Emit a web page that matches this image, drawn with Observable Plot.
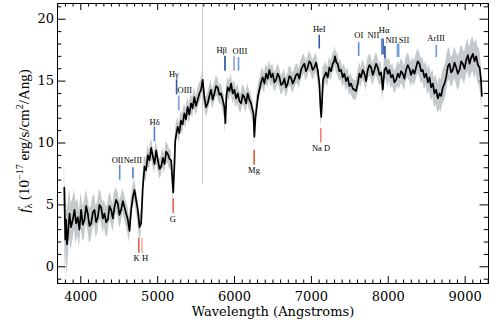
<!DOCTYPE html>
<html>
<head>
<meta charset="utf-8">
<script src="https://cdn.jsdelivr.net/npm/d3@7"></script>
<script src="https://cdn.jsdelivr.net/npm/@observablehq/plot@0.6"></script>
<style>
  html, body { margin: 0; padding: 0; background: #fff; }
</style>
</head>
<body>
<script>
// ---- Spectrum (observed wavelength, Angstroms) ----
const waves = [3785,3798,3809,3820,3831,3853,3874,3896,3918,3939,3961,3982,4004,4026,4048,4070,4091,4113,4135,4157,4178,4200,4221,4243,4265,4287,4308,4330,4352,4373,4395,4417,4438,4460,4482,4503,4525,4547,4569,4590,4612,4634,4655,4677,4699,4720,4742,4764,4785,4807,4829,4850,4872,4894,4916,4938,4960,4980,5003,5025,5046,5068,5090,5111,5133,5155,5176,5190,5203,5220,5229,5245,5260,5282,5303,5325,5347,5368,5390,5412,5434,5455,5477,5499,5521,5543,5564,5586,5607,5629,5651,5673,5694,5716,5738,5760,5781,5803,5824,5846,5868,5881,5895,5911,5933,5955,5977,5998,6020,6042,6063,6085,6107,6128,6150,6172,6193,6215,6230,6246,6258,6272,6289,6306,6324,6345,6367,6389,6411,6432,6454,6476,6497,6519,6541,6562,6584,6606,6628,6648,6670,6691,6713,6734,6756,6778,6800,6821,6843,6865,6887,6908,6930,6951,6973,6995,7016,7038,7060,7082,7104,7118,7128,7140,7151,7170,7190,7212,7234,7255,7277,7295,7307,7325,7342,7364,7386,7408,7429,7451,7473,7495,7516,7538,7559,7581,7603,7625,7646,7668,7690,7712,7733,7755,7777,7798,7820,7842,7864,7885,7907,7929,7951,7971,7994,8015,8037,8058,8080,8102,8124,8145,8167,8189,8210,8232,8254,8276,8297,8319,8341,8362,8384,8406,8428,8449,8471,8493,8515,8536,8558,8580,8601,8623,8645,8667,8688,8710,8732,8753,8775,8797,8818,8840,8862,8884,8905,8927,8949,8970,8992,9014,9036,9057,9079,9101,9122,9144,9166,9188,9205,9218];
const flux = [6.4,2.2,3.8,1.8,2.4,4.3,3.2,3.8,4.6,3.5,4.0,3.0,4.6,3.4,3.8,4.9,4.3,3.3,3.5,4.4,4.6,3.6,4.0,5.0,4.8,3.9,4.3,3.6,3.8,4.9,4.6,3.9,4.8,5.4,5.1,4.2,4.6,5.3,4.8,4.3,3.8,2.9,4.6,5.6,6.2,5.4,4.6,3.2,3.5,6.4,8.1,7.8,9.0,8.6,9.6,8.9,8.3,9.4,8.6,7.9,8.1,8.8,8.3,9.3,9.1,8.7,8.6,7.2,6.0,8.5,10.2,10.8,11.3,10.8,11.8,11.5,12.4,11.9,12.9,12.3,13.2,12.8,13.7,13.0,13.5,14.0,14.3,15.1,13.7,12.9,13.2,13.8,14.3,13.5,14.0,14.6,14.5,13.9,14.0,13.5,12.9,11.6,13.8,14.5,14.2,14.8,14.0,14.3,13.6,14.0,13.4,13.2,13.9,13.7,13.2,14.0,13.5,13.2,12.8,12.4,10.5,12.0,12.9,13.8,14.3,14.9,15.3,14.8,15.6,15.2,15.9,15.3,15.6,14.9,15.1,15.6,15.3,14.7,14.8,15.2,14.5,14.8,15.4,15.3,14.8,15.1,15.5,15.6,15.2,15.9,16.2,16.4,15.8,16.1,16.6,16.4,15.9,16.1,16.5,15.9,14.8,13.0,12.1,13.5,15.1,15.4,15.7,15.3,16.1,15.8,16.4,16.6,17.0,16.5,16.4,15.8,15.9,15.3,15.6,15.0,15.3,14.6,14.8,14.4,14.3,14.2,14.8,15.6,15.3,15.9,15.6,15.0,15.9,16.3,16.1,15.5,15.9,16.4,16.1,15.5,15.7,14.3,15.9,16.1,15.6,15.9,15.3,15.5,14.9,15.1,15.6,15.3,15.8,15.6,15.2,15.9,16.3,16.0,15.5,15.9,15.6,16.1,16.6,16.4,15.8,15.9,15.3,15.6,14.9,15.3,14.5,14.8,14.0,14.3,13.6,14.0,13.8,14.5,14.8,15.3,16.2,16.4,15.7,15.9,16.5,16.1,15.6,15.9,16.6,16.4,16.0,16.7,17.1,16.4,16.9,17.2,16.6,17.0,16.3,16.1,15.2,13.8];
const errs = [2.5,3.0,2.8,2.6,2.4,2.0,1.9,1.7,1.6,1.7,1.5,1.5,1.4,1.4,1.5,1.3,1.3,1.4,1.4,1.3,1.2,1.3,1.3,1.2,1.2,1.2,1.1,1.2,1.3,1.1,1.1,1.1,1.2,1.0,1.0,1.1,1.1,1.0,1.0,1.0,1.1,1.0,0.9,0.9,0.9,0.9,0.9,1.0,1.0,0.9,0.9,0.9,0.8,0.8,0.8,0.8,0.8,0.8,0.8,0.8,0.8,0.8,0.8,0.8,0.8,0.8,0.8,0.8,0.8,0.8,0.8,0.8,0.8,0.8,0.8,0.8,0.8,0.8,0.8,0.8,0.8,0.8,0.8,0.8,0.8,0.8,0.8,0.9,0.8,0.8,0.8,0.8,0.8,0.8,0.8,0.8,0.8,0.8,0.8,0.8,0.9,1.0,0.8,0.8,0.8,0.8,0.8,0.8,0.8,0.8,0.8,0.8,0.8,0.8,0.8,0.8,0.8,0.8,0.8,0.8,0.9,0.8,0.8,0.8,0.8,0.8,0.8,0.8,0.8,0.8,0.8,0.8,0.8,0.8,0.8,0.8,0.8,0.8,0.8,0.8,0.8,0.8,0.8,0.8,0.8,0.8,0.8,0.8,0.8,0.8,0.8,0.8,0.8,0.8,0.8,0.8,0.8,0.8,0.8,0.8,0.8,0.8,0.8,0.9,1.0,0.9,0.8,0.8,0.8,0.8,0.8,0.8,0.8,0.8,0.9,0.8,0.8,0.8,0.8,0.8,0.8,0.8,0.8,0.8,0.8,0.8,0.9,0.9,0.8,0.8,0.8,0.8,0.9,0.9,0.9,0.9,0.9,0.9,0.9,0.9,0.9,0.9,0.9,0.9,1.1,0.9,0.9,0.9,0.9,0.9,1.0,1.0,1.0,1.0,1.0,1.0,1.0,1.0,1.0,1.0,1.0,1.0,1.0,1.0,1.0,1.0,1.0,1.0,1.0,1.1,1.1,1.1,1.2,1.2,1.2,1.3,1.3,1.4,1.4,1.4,1.3,1.3,1.2,1.2,1.3,1.3,1.4,1.4,1.3,1.3,1.3,1.3,1.3,1.3,1.4,1.4,1.4,1.4,1.5,1.5,1.5,1.5,1.5,1.6,1.6,1.6];

// ---- Sky-line residual ----
const skyWave = [5583];
const skyLow = [6.7];
const skyHigh = [21.3];

// ---- Emission-line markers (blue) ----
const emWave = [4506,4678,4958,5246,5274,5876,5994,6052,7102,7615,7915,7933,7957,8119,8136,8625];
const emTop  = [8.2,8.0,11.3,15.1,13.8,17.0,17.0,16.9,18.7,18.1,18.4,18.4,17.8,18.0,18.0,17.9];
const emBot  = [7.0,7.1,10.1,13.9,12.6,15.8,15.8,15.8,17.6,17.0,17.1,17.1,16.8,16.9,16.9,16.9];
const emColor = ["#5b8fd0","#4a7fc4","#4a80c8","#2c5aa8","#7aa0d8","#1f4f9a","#8e9ee0","#6f9ad6","#2a5eaa","#5a8ed0","#6a8fd4","#3a63b0","#1f4f9c","#7aa0dc","#7aa0dc","#6a9ad8"];

// ---- Absorption-line markers (red) ----
const abWave = [4755,4797,5202,6255,7123];
const abTop  = [2.3,2.3,5.5,9.4,11.2];
const abBot  = [1.1,1.1,4.3,8.2,10.0];
const abColor = ["#e8604a","#f2b0aa","#e8604a","#e8553a","#f08070"];

// ---- Line labels ----
const lblText = ["OII","NeIII","Hδ","Hγ","OIII","Hβ","OIII","HeI","OI","NII","Hα","NII","SII","ArIII","K H","G","Mg","Na D"];
const lblWave = [4478,4678,4960,5211,5354,5832,6070,7103,7617,7806,7945,8040,8205,8622,4781,5198,6253,7125];
const lblY    = [8.57,8.57,11.68,15.52,14.29,17.49,17.41,19.15,18.67,18.67,19.1,18.33,18.33,18.48,0.66,3.84,7.77,9.55];

// ---- Axes ----
const xDomain = [3697, 9304];
const yDomain = [-1.35, 21.27];
const xMajor = [4000,5000,6000,7000,8000,9000];
const xMinor = d3.range(3700, 9301, 100).filter(v => !xMajor.includes(v));
const yMajor = [0,5,10,15,20];
const yMinor = d3.range(-1, 22, 1).filter(v => !yMajor.includes(v));
const xTitle = "Wavelength (Angstroms)";

const spec = waves.map((w, i) => ({w, f: flux[i], lo: flux[i] - errs[i], hi: flux[i] + errs[i]}));
const em = emWave.map((w, i) => ({w, t: emTop[i], b: emBot[i], c: emColor[i]}));
const ab = abWave.map((w, i) => ({w, t: abTop[i], b: abBot[i], c: abColor[i]}));
const lbl = lblText.map((t, i) => ({t, w: lblWave[i], y: lblY[i]}));
const sky = skyWave.map((w, i) => ({w, lo: skyLow[i], hi: skyHigh[i]}));

const W = 498, H = 324, mL = 57, mR = 10, mT = 3, mB = 41;
const fw = W - mL - mR, fh = H - mT - mB;
const majX = 7, minX = 3.5, majY = 8.5, minY = 4.3;

const chart = Plot.plot({
  width: W, height: H,
  marginLeft: mL, marginRight: mR, marginTop: mT, marginBottom: mB,
  style: {fontFamily: "DejaVu Serif", fontSize: "13px", background: "#fff", color: "#000"},
  x: {domain: xDomain},
  y: {domain: yDomain},
  marks: [
    Plot.ruleX(sky, {x: "w", y1: "lo", y2: "hi", stroke: "#c9c9c9", strokeWidth: 1, clip: true}),
    Plot.areaY(spec, {x: "w", y1: "lo", y2: "hi", fill: "#c4c9cc", clip: true}),
    Plot.line(spec, {x: "w", y: "f", stroke: "#000", strokeWidth: 1.7, clip: true}),
    Plot.ruleX(em, {x: "w", y1: "b", y2: "t", stroke: "c", strokeWidth: 1.6}),
    Plot.ruleX(ab, {x: "w", y1: "b", y2: "t", stroke: "c", strokeWidth: 1.6}),
    Plot.text(lbl, {x: "w", y: "y", text: "t", fontFamily: "Liberation Serif", fontSize: 8.5, fill: "#000"}),
    // inward ticks on all four sides
    Plot.tickX(xMajor, {x: d => d, insetTop: fh - majX, stroke: "#000"}),
    Plot.tickX(xMinor, {x: d => d, insetTop: fh - minX, stroke: "#000"}),
    Plot.tickX(xMajor, {x: d => d, insetBottom: fh - majX, stroke: "#000"}),
    Plot.tickX(xMinor, {x: d => d, insetBottom: fh - minX, stroke: "#000"}),
    Plot.tickY(yMajor, {y: d => d, insetRight: fw - majY, stroke: "#000"}),
    Plot.tickY(yMinor, {y: d => d, insetRight: fw - minY, stroke: "#000"}),
    Plot.tickY(yMajor, {y: d => d, insetLeft: fw - majY, stroke: "#000"}),
    Plot.tickY(yMinor, {y: d => d, insetLeft: fw - minY, stroke: "#000"}),
    Plot.axisX({ticks: xMajor, tickSize: 0, tickPadding: 8, tickFormat: d => String(d), label: null, fontSize: 13}),
    Plot.axisY({ticks: yMajor, tickSize: 0, tickPadding: 3.5, tickFormat: d => String(d), label: null, fontSize: 13}),
    Plot.text([xTitle], {frameAnchor: "bottom", dy: 32, text: d => d, fontSize: 13, fontFamily: "DejaVu Serif", fill: "#000"}),
    Plot.frame({stroke: "#000"})
  ]
});
document.body.appendChild(chart);

// y-axis title with sub/superscripts
const ylab = d3.select(chart).append("text")
  .attr("transform", `translate(29,${mT + fh / 2 - 2}) rotate(-90)`)
  .attr("text-anchor", "middle")
  .attr("font-family", "Liberation Serif")
  .attr("font-size", 15)
  .attr("fill", "#000");
ylab.append("tspan").attr("font-style", "italic").text("f");
ylab.append("tspan").attr("font-size", 10).attr("dy", 3).text("λ");
ylab.append("tspan").attr("dy", -3).text(" (10");
ylab.append("tspan").attr("font-size", 10).attr("dy", -6).text("−17");
ylab.append("tspan").attr("dy", 6).text(" erg/s/cm");
ylab.append("tspan").attr("font-size", 10).attr("dy", -6).text("2");
ylab.append("tspan").attr("dy", 6).text("/Ang)");
</script>
</body>
</html>
